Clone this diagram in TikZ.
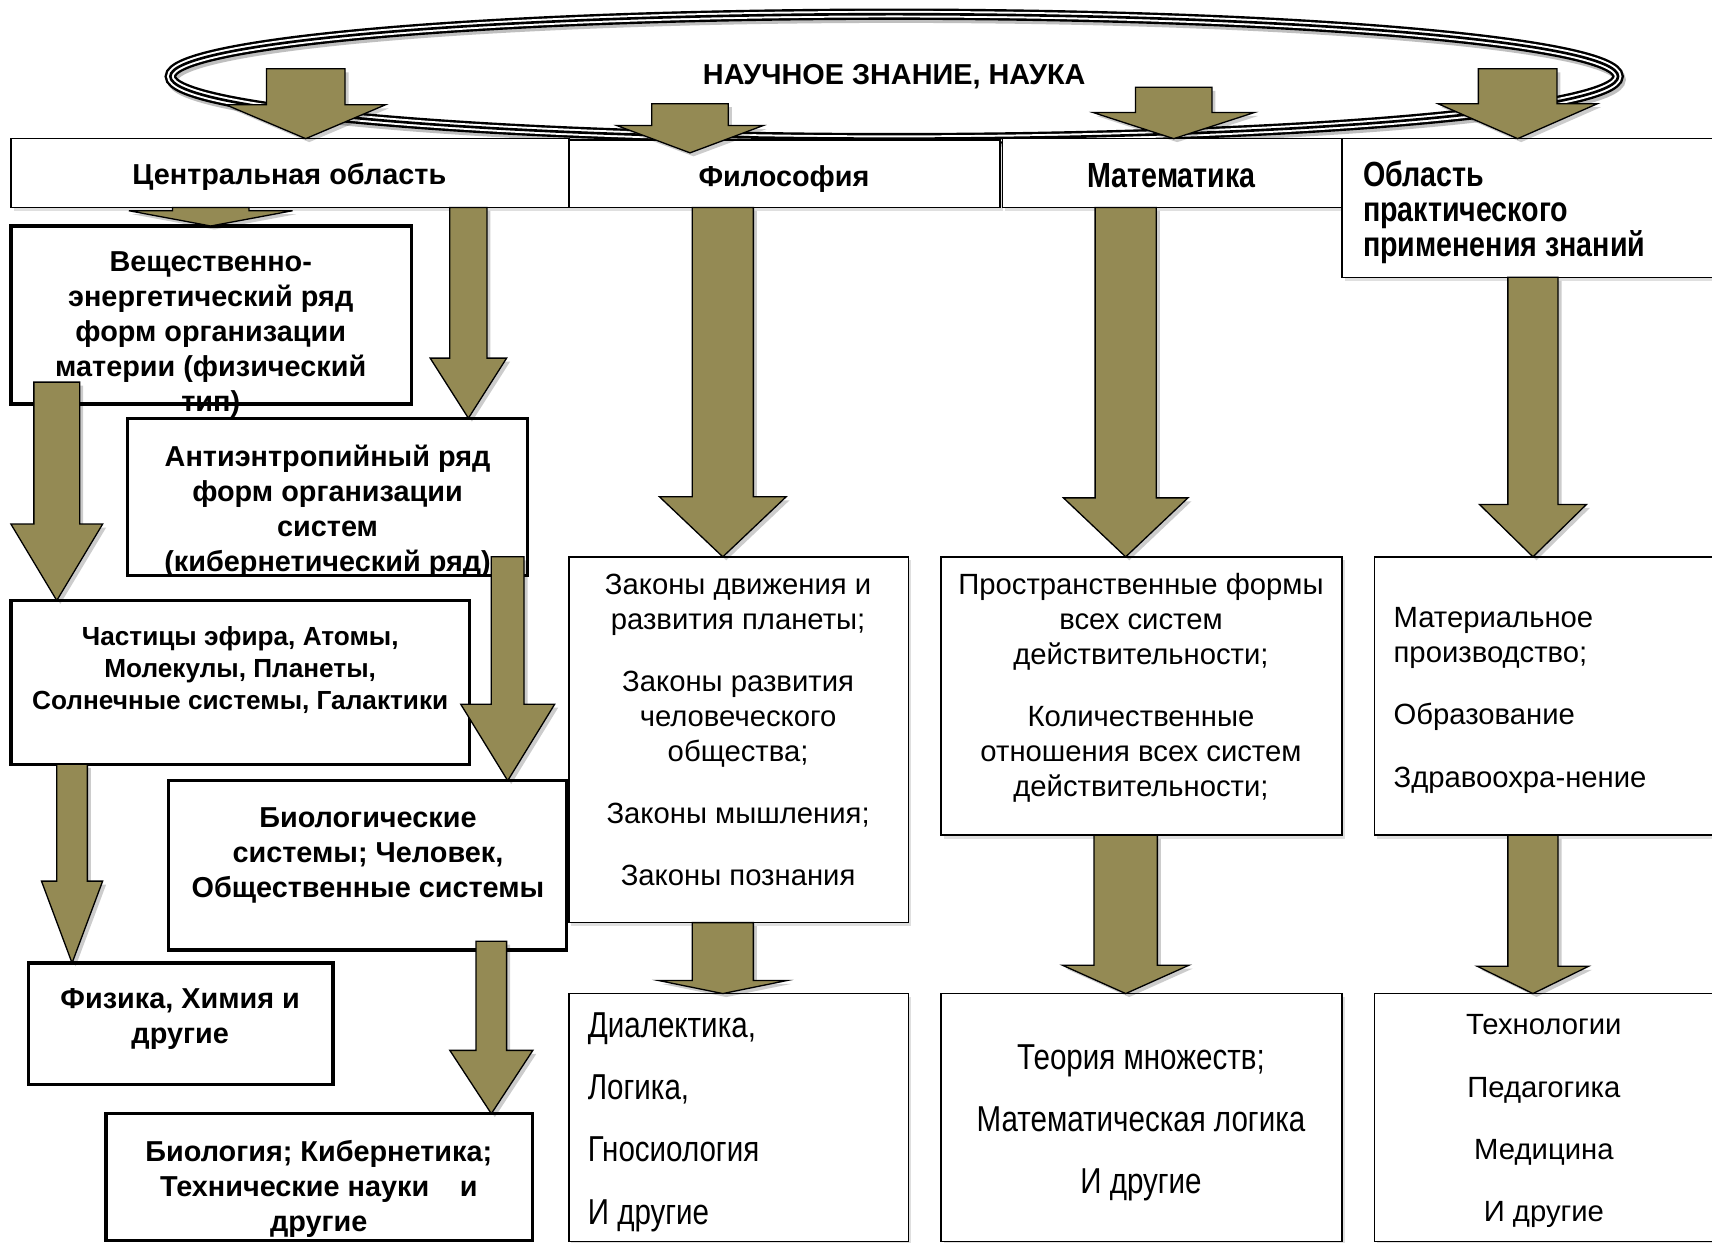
\documentclass[tikz,border=0pt]{standalone}
\usepackage{fontspec}
\setmainfont{Liberation Sans}
\newfontfamily\narrowfont[FakeStretch=0.82]{Liberation Sans}
\usetikzlibrary{calc,shadows}
\definecolor{arrowolive}{HTML}{948A54}
\tikzset{
  tbox/.style={draw=black, line width=0.7pt, fill=white, inner sep=0pt, outer sep=0pt,
    drop shadow={shadow xshift=1.2pt, shadow yshift=-1.5pt, opacity=0.25}},
  kbox/.style={draw=black, line width=1.5pt, fill=white, inner sep=0pt, outer sep=0pt},
  ctxt/.style={inner sep=0pt, align=center, anchor=north},
  ltxt/.style={inner sep=0pt, align=left, anchor=north west},
  fbold/.style={font=\bfseries\fontsize{13.2}{16}\selectfont},
  fboldsmall/.style={font=\bfseries\fontsize{12}{14.75}\selectfont},
  freg/.style={font=\fontsize{13.4}{16}\selectfont},
  fregwide/.style={font=\fontsize{13.4}{28.5}\selectfont},
  fnarrowbold/.style={font=\narrowfont\bfseries\fontsize{16}{16}\selectfont},
  fnarrow/.style={font=\narrowfont\fontsize{16.5}{28.5}\selectfont},
  blockarrow/.style={fill=arrowolive, draw=black, line width=0.6pt, line join=miter},
  arrshadow/.style={fill=black, opacity=0.2}
}
\newcommand\boxnode[6]{\node[#2, anchor=north west, minimum width={(#5-#3)*0.5pt}, minimum height={(#6-#4)*0.5pt}] (#1) at (#3,#4) {};}
\newcommand\arrowpoly[6]{let \p1=#1, \p2=#2 in
  ({\x2-#3*0.5pt+#6},{\y1-#6}) -- ({\x2-#3*0.5pt+#6},{\y2+#5*0.5pt-#6}) --
  ({\x2-#4*0.5pt+#6},{\y2+#5*0.5pt-#6}) -- ({\x2+#6},{\y2-#6}) --
  ({\x2+#4*0.5pt+#6},{\y2+#5*0.5pt-#6}) -- ({\x2+#3*0.5pt+#6},{\y2+#5*0.5pt-#6}) --
  ({\x2+#3*0.5pt+#6},{\y1-#6}) -- cycle}
\newcommand\barrow[5]{%
  \fill[arrshadow] \arrowpoly{#1}{#2}{#3}{#4}{#5}{1.6pt};
  \filldraw[blockarrow] \arrowpoly{#1}{#2}{#3}{#4}{#5}{0pt};}
\begin{document}
\begin{tikzpicture}[x=0.5pt,y=-0.5pt]
\useasboundingbox (0,0) rectangle (1568,1138);
\clip (0,0) rectangle (1568,1138);
\fill[white] (0,0) rectangle (1568,1138);

% title and ellipse
\node[fbold, inner sep=0pt] (sci) at (819,70) {НАУЧНОЕ ЗНАНИЕ, НАУКА};
\coordinate (ec) at ($(sci.center)+(0,0)$);
\draw[black!25, line width=5pt] ([shift={(2,3)}]ec) ellipse [x radius=331.5pt, y radius=28.5pt];
\draw[black, line width=5.2pt] (ec) ellipse [x radius=331.5pt, y radius=28.5pt];
\draw[white, line width=3pt] (ec) ellipse [x radius=331.5pt, y radius=28.5pt];
\draw[black, line width=1.2pt] (ec) ellipse [x radius=331.5pt, y radius=28.5pt];

% header boxes
\boxnode{H1}{tbox}{10}{127}{521}{190}
\boxnode{H2}{tbox}{521}{128}{916}{190}
\boxnode{H3}{tbox}{918}{127}{1229}{190}
\boxnode{H4}{tbox}{1229}{127}{1590}{254}
\node[fbold, inner sep=0pt] (t1) at (265,162) {Центральная область};
\node[fbold, inner sep=0pt] (t2) at (718,164) {Философия};
\node[fnarrowbold, inner sep=0pt] (t3) at (1073,161) {Математика};
\node[ltxt, fnarrowbold] (t4) at (1248,147) {Область\\практического\\применения знаний};

% central column boxes
\boxnode{B1}{kbox}{10}{207}{377}{370}
\boxnode{B2}{kbox}{117}{383}{483}{527}
\boxnode{B3}{kbox}{10}{550}{430}{700}
\boxnode{B4}{kbox}{154}{715}{519}{870}
\boxnode{B5}{kbox}{26}{882}{305}{993}
\boxnode{B6}{kbox}{97}{1020}{488}{1136}
\node[ctxt, fbold] (tb1) at (193,230) {Вещественно-\\энергетический ряд\\форм организации\\материи (физический\\тип)};
\node[ctxt, fbold] (tb2) at (300,407) {Антиэнтропийный ряд\\форм организации\\систем\\(кибернетический ряд)};
\node[ctxt, fboldsmall] (tb3) at (220,573) {Частицы эфира, Атомы,\\Молекулы, Планеты,\\Солнечные системы, Галактики};
\node[ctxt, fbold] (tb4) at (337,739) {Биологические\\системы; Человек,\\Общественные системы};
\node[ctxt, fbold] (tb5) at (165,905) {Физика, Химия и\\другие};
\node[ctxt, fbold] (tb6) at (292,1044) {Биология; Кибернетика;\\Технические науки\hspace{14pt}и\\другие};

% other columns
\boxnode{P1}{tbox}{521}{510}{832}{845}
\boxnode{P2}{tbox}{521}{910}{832}{1137}
\boxnode{M1}{tbox}{862}{510}{1229}{765}
\boxnode{M2}{tbox}{862}{910}{1229}{1137}
\boxnode{R1}{tbox}{1259}{510}{1590}{765}
\boxnode{R2}{tbox}{1259}{910}{1590}{1137}
\node[ctxt, freg] (tp1) at (676,525) {Законы движения и\\развития планеты;\\[12.5pt]Законы развития\\человеческого\\общества;\\[12.5pt]Законы мышления;\\[12.5pt]Законы познания};
\node[ltxt, fnarrow] (tp2) at (538,927) {Диалектика,\\Логика,\\Гносиология\\И другие};
\node[ctxt, freg] (tm1) at (1045,525) {Пространственные формы\\всех систем\\действительности;\\[12.5pt]Количественные\\отношения всех систем\\действительности;};
\node[ctxt, fnarrow] (tm2) at (1045,956) {Теория множеств;\\Математическая логика\\И другие};
\node[ltxt, freg] (tr1) at (1276,556) {Материальное\\производство;\\[12.5pt]Образование\\[12.5pt]Здравоохра-нение};
\node[ctxt, fregwide] (tr2) at (1414,929) {Технологии\\Педагогика\\Медицина\\И другие};

% arrows from the ellipse
\coordinate (a1s) at (280,63);
\coordinate (a2s) at (632,95);
\coordinate (a3s) at (1075,80);
\coordinate (a4s) at (1390,63);
\barrow{(a1s)}{(H1.north -| 280,0)}{36}{73}{31}
\barrow{(a2s)}{($(H2.north -| 632,0)+(0,12)$)}{35}{67}{25}
\barrow{(a3s)}{(H3.north -| 1075,0)}{35}{74}{24}
\barrow{(a4s)}{(H4.north -| 1390,0)}{36}{73}{32}

% central column arrows
\barrow{(H1.south -| 193,0)}{(B1.north -| 193,0)}{35}{75}{14}
\barrow{(H1.south -| 429,0)}{(B2.north -| 429,0)}{17}{35}{55}
\barrow{($(B1.south -| 52,0)+(0,-20)$)}{(B3.north -| 52,0)}{21}{42}{70}
\barrow{($(B2.south -| 465,0)+(0,-17)$)}{(B4.north -| 465,0)}{15}{43}{70}
\barrow{(B3.south -| 66,0)}{(B5.north -| 66,0)}{14}{28}{75}
\barrow{($(B4.south -| 450,0)+(0,-8)$)}{(B6.north -| 450,0)}{14}{38}{58}

% other columns arrows
\barrow{(H2.south -| 662,0)}{(P1.north -| 662,0)}{28}{58}{55}
\barrow{(P1.south -| 662,0)}{(P2.north -| 662,0)}{28}{59}{12}
\barrow{(H3.south -| 1031,0)}{(M1.north -| 1031,0)}{28}{57}{54}
\barrow{(M1.south -| 1031,0)}{(M2.north -| 1031,0)}{29}{58}{26}
\barrow{(H4.south -| 1404,0)}{(R1.north -| 1404,0)}{23}{49}{48}
\barrow{(R1.south -| 1404,0)}{(R2.north -| 1404,0)}{23}{51}{25}
\end{tikzpicture}
\end{document}
